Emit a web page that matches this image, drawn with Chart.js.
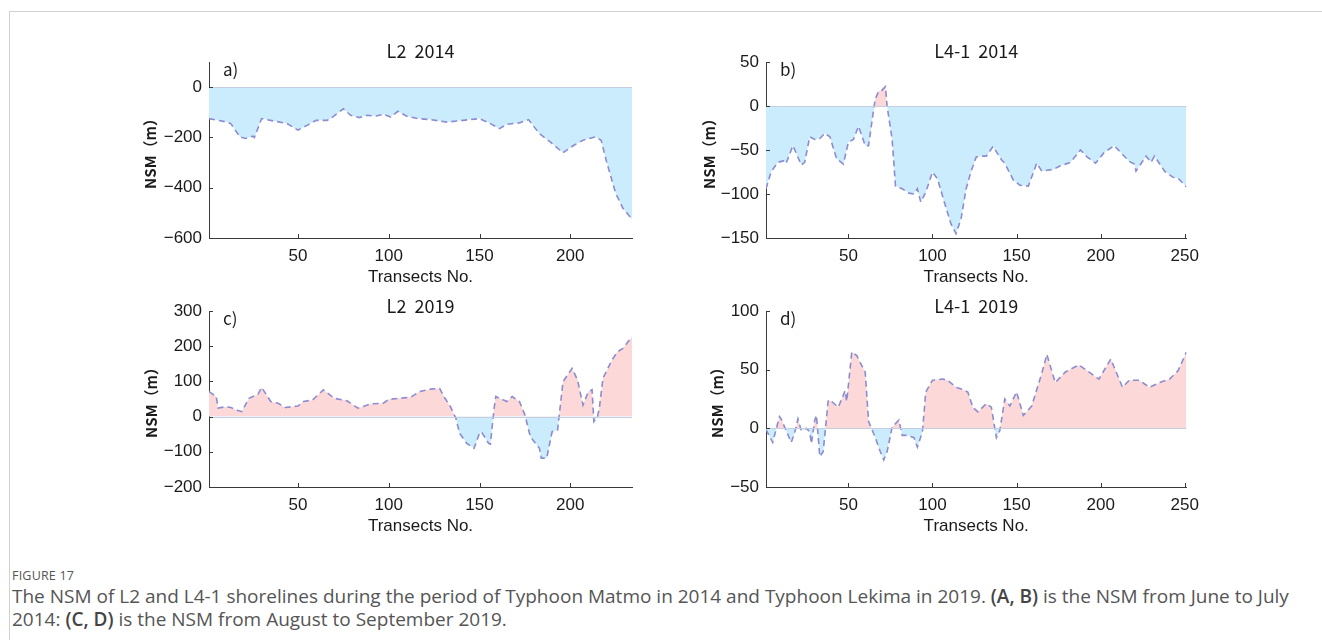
<!DOCTYPE html>
<html>
<head>
<meta charset="utf-8">
<script src="https://cdn.jsdelivr.net/npm/chart.js@4.4.1/dist/chart.umd.min.js"></script>
<style>
  body { margin: 0; background: #fff; width: 1322px; height: 640px; overflow: hidden; position: relative; }
  .frame { position: absolute; left: 9px; top: 11px; width: 1320px; height: 640px;
           border-top: 1px solid #d2d2d2; border-left: 1px solid #d2d2d2; }
  canvas { position: absolute; }
  .figno { position: absolute; left: 12px; top: 567px; font: 12.5px "Open Sans", sans-serif; color: #555; letter-spacing: 0.2px; }
  .caption { position: absolute; left: 12px; top: 585px; font: 19px/23px "Open Sans", sans-serif; color: #555; white-space: nowrap; }
  .caption b { font-weight: 600; color: #444; }
</style>
</head>
<body>
<div class="frame"></div>
<canvas id="pa" width="530" height="260" style="left:120px;top:30px"></canvas>
<canvas id="pb" width="530" height="260" style="left:677px;top:30px"></canvas>
<canvas id="pc" width="530" height="260" style="left:120px;top:279px"></canvas>
<canvas id="pd" width="530" height="260" style="left:677px;top:279px"></canvas>
<div class="figno">FIGURE 17</div>
<div class="caption">The NSM of L2 and L4-1 shorelines during the period of Typhoon Matmo in 2014 and Typhoon Lekima in 2019. <b>(A, B)</b> is the NSM from June to July<br>2014: <b>(C, D)</b> is the NSM from August to September 2019.</div>
<script>
// transect numbers and NSM values (m)
const xA = [1, 11, 13, 18, 21, 25, 26, 30, 37, 44, 50, 55, 60, 66, 68, 75, 79, 84, 88, 93, 97, 101, 105, 110, 116, 123, 132, 141, 150, 156, 161, 165, 172, 177, 183, 189, 196, 202, 207, 214, 217, 220, 225, 229, 234];
const yA = [-125, -139, -145, -198, -204, -195, -200, -125, -135, -145, -171, -152, -132, -132, -125, -86, -112, -121, -112, -115, -108, -119, -96, -116, -125, -129, -139, -132, -125, -145, -165, -148, -142, -129, -185, -218, -261, -231, -211, -198, -211, -297, -422, -482, -525];

const xB = [1, 4, 8, 12, 13, 17, 22, 24, 27, 30, 33, 36, 39, 43, 47, 50, 53, 56, 60, 62, 65, 66, 68, 70, 72, 73, 76, 78, 82, 86, 89, 91, 93, 96, 100, 103, 107, 111, 114, 117, 120, 123, 126, 129, 132, 136, 141, 143, 148, 152, 157, 162, 165, 172, 176, 182, 188, 192, 197, 202, 208, 212, 217, 220, 221, 227, 230, 232, 238, 243, 246, 251];
const yB = [-94, -75, -64, -62, -65, -45, -67, -64, -35, -38, -37, -31, -35, -60, -66, -41, -38, -23, -45, -45, -4, 8, 17, 18, 22, 0, -38, -91, -94, -99, -100, -94, -109, -98, -75, -83, -109, -134, -145, -128, -94, -74, -58, -57, -57, -46, -61, -65, -84, -90, -91, -65, -74, -72, -68, -64, -50, -58, -65, -53, -45, -53, -63, -66, -74, -57, -64, -57, -74, -81, -82, -92];

const xC = [1, 5, 6, 10, 13, 17, 19, 23, 28, 30, 35, 39, 43, 50, 53, 58, 64, 70, 77, 83, 90, 97, 100, 106, 112, 117, 123, 128, 131, 134, 137, 139, 143, 147, 150, 151, 155, 156, 158, 159, 165, 168, 172, 175, 178, 183, 184, 187, 190, 193, 196, 201, 204, 207, 210, 212, 213, 215, 216, 218, 223, 226, 229, 234];
const yC = [71, 57, 24, 28, 26, 17, 14, 52, 64, 83, 43, 38, 26, 30, 43, 47, 76, 52, 45, 24, 36, 38, 49, 52, 55, 71, 78, 80, 52, 28, -5, -47, -76, -90, -47, -43, -76, -78, 22, 57, 43, 57, 43, 5, -57, -90, -118, -118, -43, -38, 99, 137, 104, 33, 71, 76, -14, 0, 24, 109, 161, 184, 194, 227];

const xD = [1, 5, 9, 10, 16, 18, 20, 22, 25, 27, 28, 30, 31, 33, 35, 38, 40, 44, 48, 49, 52, 55, 57, 60, 62, 66, 69, 71, 73, 76, 78, 80, 82, 85, 89, 91, 94, 96, 100, 106, 109, 114, 118, 121, 124, 127, 132, 135, 138, 140, 143, 146, 150, 154, 159, 165, 168, 173, 179, 187, 192, 199, 206, 213, 217, 223, 229, 235, 241, 246, 251];
const yD = [-1, -12, 10, 8, -12, -4, 8, -2, 0, -3, -13, 7, 11, -24, -20, 24, 23, 18, 32, 23, 65, 62, 56, 48, 6, -8, -20, -27, -20, 1, 4, 7, -6, -6, -8, -16, -3, 31, 41, 42, 41, 35, 33, 31, 18, 14, 21, 18, -8, -2, 25, 19, 31, 11, 19, 47, 63, 39, 48, 54, 49, 42, 59, 35, 41, 41, 35, 39, 42, 49, 65];

// tick values
const xTicksL2 = [50, 100, 150, 200];
const xTicksL4 = [50, 100, 150, 200, 250];
const yTicksA = [0, -200, -400, -600];
const yTicksB = [50, 0, -50, -100, -150];
const yTicksC = [300, 200, 100, 0, -100, -200];
const yTicksD = [100, 50, 0, -50];

const BLUE = 'rgb(202, 236, 252)';
const PINK = 'rgb(252, 216, 216)';
const LINE = 'rgb(140, 140, 208)';
const AXIS = '#3a3a3a';

// zero line, inward tick marks, panel title and letter
const panelDecor = {
  id: 'panelDecor',
  afterDatasetsDraw(chart, args, opts) {
    const ctx = chart.ctx;
    const area = chart.chartArea;
    const xs = chart.scales.x, ys = chart.scales.y;
    ctx.save();
    const y0 = Math.round(ys.getPixelForValue(0)) + 0.5;
    ctx.strokeStyle = 'rgb(196, 206, 224)';
    ctx.lineWidth = 1;
    ctx.beginPath();
    ctx.moveTo(area.left, y0);
    ctx.lineTo(area.right, y0);
    ctx.stroke();

    ctx.strokeStyle = AXIS;
    ctx.beginPath();
    ys.ticks.forEach(t => {
      const p = Math.round(ys.getPixelForValue(t.value)) + 0.5;
      ctx.moveTo(area.left, p);
      ctx.lineTo(area.left + 4, p);
    });
    xs.ticks.forEach(t => {
      const p = Math.round(xs.getPixelForValue(t.value)) + 0.5;
      ctx.moveTo(p, area.bottom);
      ctx.lineTo(p, area.bottom - 4);
    });
    ctx.stroke();

    ctx.fillStyle = '#1a1a1a';
    ctx.textBaseline = 'middle';
    ctx.font = '18px "Noto Sans CJK SC"';
    ctx.textAlign = 'center';
    ctx.fillText(opts.title, (area.left + area.right) / 2, area.top - opts.titleGap);
    ctx.textAlign = 'left';
    ctx.font = '17px "Noto Sans CJK SC"';
    ctx.fillText(opts.letter, area.left + 14, area.top + 8);
    ctx.restore();
  }
};

function minusSign(v) {
  return String(v).replace('-', '\u2212');
}

function makePanel(id, xs, ys, xMax, xTicks, yMin, yMax, yTicks, title, letter, titleGap, yTitlePad) {
  const points = xs.map((x, i) => ({x: x, y: ys[i]}));
  return new Chart(document.getElementById(id), {
    type: 'line',
    data: {
      datasets: [{
        data: points,
        borderColor: LINE,
        borderWidth: 1.6,
        borderDash: [6, 4],
        pointRadius: 0,
        tension: 0,
        fill: {target: {value: 0}, above: PINK, below: BLUE}
      }]
    },
    options: {
      responsive: false,
      animation: false,
      events: [],
      layout: {autoPadding: false, padding: {left: 0, top: 32, right: 18, bottom: 0}},
      plugins: {
        legend: {display: false},
        tooltip: {enabled: false},
        panelDecor: {title: title, letter: letter, titleGap: titleGap}
      },
      scales: {
        x: {
          type: 'linear',
          min: 1,
          max: xMax,
          afterBuildTicks: s => { s.ticks = xTicks.map(v => ({value: v})); },
          afterFit: s => { s.height = 52; },
          grid: {drawOnChartArea: false, drawTicks: false},
          border: {display: true, color: AXIS, width: 1},
          ticks: {padding: 8, color: '#1a1a1a', font: {family: '"Liberation Sans", Arial', size: 17}, maxRotation: 0,
                  callback: v => minusSign(v)},
          title: {display: true, text: 'Transects No.', color: '#1a1a1a',
                  font: {family: '"Liberation Sans", Arial', size: 17}, padding: {top: 0, bottom: 2}}
        },
        y: {
          min: yMin,
          max: yMax,
          afterBuildTicks: s => { s.ticks = yTicks.map(v => ({value: v})); },
          afterFit: s => { s.width = 89; },
          grid: {drawOnChartArea: false, drawTicks: false},
          border: {display: true, color: AXIS, width: 1},
          ticks: {padding: 7, color: '#1a1a1a', font: {family: '"Liberation Sans", Arial', size: 17},
                  callback: v => minusSign(v)},
          title: {display: true, text: 'NSM\uFF08m\uFF09', color: '#1a1a1a',
                  font: {family: '"Noto Sans CJK SC"', size: 15, weight: 'bold'}, padding: {top: yTitlePad, bottom: 0}}
        }
      }
    },
    plugins: [panelDecor]
  });
}

makePanel('pa', xA, yA, 234, xTicksL2, -600, 100, yTicksA, 'L2  2014', 'a)', 10.5, 21);
makePanel('pb', xB, yB, 251, xTicksL4, -150, 50, yTicksB, 'L4-1  2014', 'b)', 10.5, 23);
makePanel('pc', xC, yC, 234, xTicksL2, -200, 300, yTicksC, 'L2  2019', 'c)', 5, 22);
makePanel('pd', xD, yD, 251, xTicksL4, -50, 100, yTicksD, 'L4-1  2019', 'd)', 5, 31);
</script>
</body>
</html>
